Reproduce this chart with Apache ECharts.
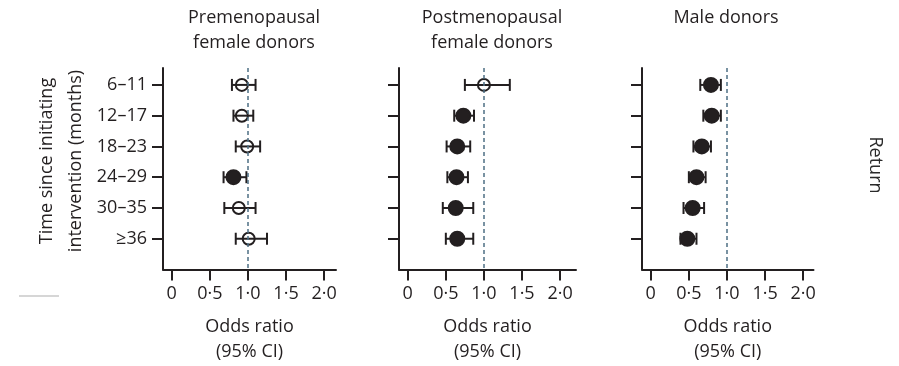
<!DOCTYPE html>
<html>
<head>
<meta charset="utf-8">
<script src="https://cdn.jsdelivr.net/npm/echarts@6/dist/echarts.min.js"></script>
<style>html,body{margin:0;padding:0;background:#fff}#chart{width:899px;height:366px}</style>
</head>
<body>
<div id="chart"></div>
<script>
// ---- data ----
const categories = ['6–11', '12–17', '18–23', '24–29', '30–35', '≥36'];
const xTickValues = [0, 0.5, 1, 1.5, 2];
const xTickLabels = ['0', '0·5', '1·0', '1·5', '2·0'];
const panelTitles = ['Premenopausal\nfemale donors', 'Postmenopausal\nfemale donors', 'Male donors'];

const preOR  = [0.92, 0.92, 0.99, 0.81, 0.88, 1.01];
const preLo  = [0.79, 0.81, 0.84, 0.68, 0.69, 0.84];
const preHi  = [1.10, 1.07, 1.16, 0.98, 1.10, 1.25];
const preSig = [0, 0, 0, 1, 0, 0];

const postOR  = [1.00, 0.73, 0.65, 0.64, 0.63, 0.65];
const postLo  = [0.75, 0.61, 0.51, 0.52, 0.46, 0.50];
const postHi  = [1.34, 0.87, 0.82, 0.79, 0.86, 0.86];
const postSig = [0, 1, 1, 1, 1, 1];

const maleOR  = [0.79, 0.80, 0.67, 0.60, 0.55, 0.48];
const maleLo  = [0.65, 0.69, 0.56, 0.50, 0.43, 0.39];
const maleHi  = [0.92, 0.92, 0.79, 0.72, 0.70, 0.60];
const maleSig = [1, 1, 1, 1, 1, 1];

// ---- styling / layout ----
const INK = '#231f20';
const FONT = '"Open Sans", "Noto Sans", sans-serif';
const FS = 18;
const panels = [
  {or: preOR,  lo: preLo,  hi: preHi,  sig: preSig,  left: 163, width: 173, max: 2.156, titleX: 254},
  {or: postOR, lo: postLo, hi: postHi, sig: postSig, left: 399, width: 177, max: 2.209, titleX: 492},
  {or: maleOR, lo: maleLo, hi: maleHi, sig: maleSig, left: 642, width: 171.5, max: 2.136, titleX: 726}
];
const GRID_TOP = 68, GRID_H = 201.5;
const catPos = categories.map((c, i) => i + 1);

const grid = [], xAxis = [], yAxis = [], series = [], graphic = [];
panels.forEach((p, k) => {
  grid.push({left: p.left, top: GRID_TOP, width: p.width, height: GRID_H,
    containLabel: false, outerBoundsMode: 'none'});
  xAxis.push({
    type: 'value', gridIndex: k, min: -0.115, max: p.max, position: 'bottom',
    axisLine: {show: true, onZero: false, lineStyle: {color: INK, width: 2}},
    axisTick: {show: true, length: 11, inside: false, lineStyle: {color: INK, width: 2}, customValues: xTickValues},
    axisLabel: {customValues: xTickValues, margin: 15, color: INK, fontSize: FS, fontFamily: FONT,
      formatter: v => xTickLabels[xTickValues.indexOf(Math.round(v * 10) / 10)] ?? ''},
    splitLine: {show: false},
    name: 'Odds ratio\n(95% CI)', nameLocation: 'middle', nameGap: 45,
    nameTextStyle: {color: INK, fontSize: FS, fontFamily: FONT, lineHeight: 25, verticalAlign: 'top'}
  });
  yAxis.push({
    type: 'value', gridIndex: k, min: 0.45, max: 7, inverse: true,
    axisLine: {show: true, onZero: false, lineStyle: {color: INK, width: 2}},
    axisTick: {show: true, length: 11, lineStyle: {color: INK, width: 2}, customValues: catPos},
    axisLabel: {show: k === 0, customValues: catPos, margin: 16, color: INK, fontSize: FS, fontFamily: FONT,
      formatter: v => categories[Math.round(v) - 1] ?? ''},
    splitLine: {show: false}
  });
  series.push({
    type: 'custom', xAxisIndex: k, yAxisIndex: k, z: 2,
    data: categories.map((c, i) => [p.lo[i], p.hi[i], i + 1]),
    renderItem: (params, api) => {
      const a = api.coord([api.value(0), api.value(2)]);
      const b = api.coord([api.value(1), api.value(2)]);
      const h = 6;
      const st = {stroke: INK, lineWidth: 2};
      return {type: 'group', children: [
        {type: 'line', shape: {x1: a[0], y1: a[1], x2: b[0], y2: b[1]}, style: st},
        {type: 'line', shape: {x1: a[0], y1: a[1] - h, x2: a[0], y2: a[1] + h}, style: st},
        {type: 'line', shape: {x1: b[0], y1: b[1] - h, x2: b[0], y2: b[1] + h}, style: st}
      ]};
    }
  });
  series.push({
    type: 'scatter', xAxisIndex: k, yAxisIndex: k, z: 3,
    data: categories.map((c, i) => [p.or[i], i + 1, p.sig[i]]),
    symbol: 'circle',
    symbolSize: d => d[2] ? 14 : 12,
    itemStyle: {
      color: params => params.data[2] ? INK : 'rgba(0,0,0,0)',
      borderColor: INK, borderWidth: 2, opacity: 1
    },
    emphasis: {disabled: true},
    markLine: {
      silent: true, symbol: 'none', label: {show: false},
      lineStyle: {color: '#4d6f84', width: 1.5, type: [4, 3]},
      data: [{xAxis: 1}]
    }
  });
  graphic.push({
    type: 'text', x: p.titleX, y: 5,
    style: {text: panelTitles[k], align: 'center', verticalAlign: 'top', lineHeight: 25,
      fill: INK, fontSize: FS, fontFamily: FONT}
  });
});

graphic.push({
  type: 'text', x: 61, y: 161, rotation: Math.PI / 2,
  style: {text: 'Time since initiating\nintervention (months)', align: 'center', verticalAlign: 'middle',
    lineHeight: 29, fill: INK, fontSize: FS, fontFamily: FONT}
});
graphic.push({
  type: 'text', x: 875, y: 165, rotation: -Math.PI / 2,
  style: {text: 'Return', align: 'center', verticalAlign: 'middle', fill: '#2a2a2a', fontSize: FS, fontFamily: FONT}
});
graphic.push({
  type: 'line', shape: {x1: 19, y1: 296, x2: 59, y2: 296},
  style: {stroke: '#c8c8c8', lineWidth: 1.5}
});

const chart = echarts.init(document.getElementById('chart'), null, {renderer: 'canvas'});
chart.setOption({
  animation: false,
  backgroundColor: '#fff',
  grid, xAxis, yAxis, series, graphic
});
</script>
</body>
</html>
